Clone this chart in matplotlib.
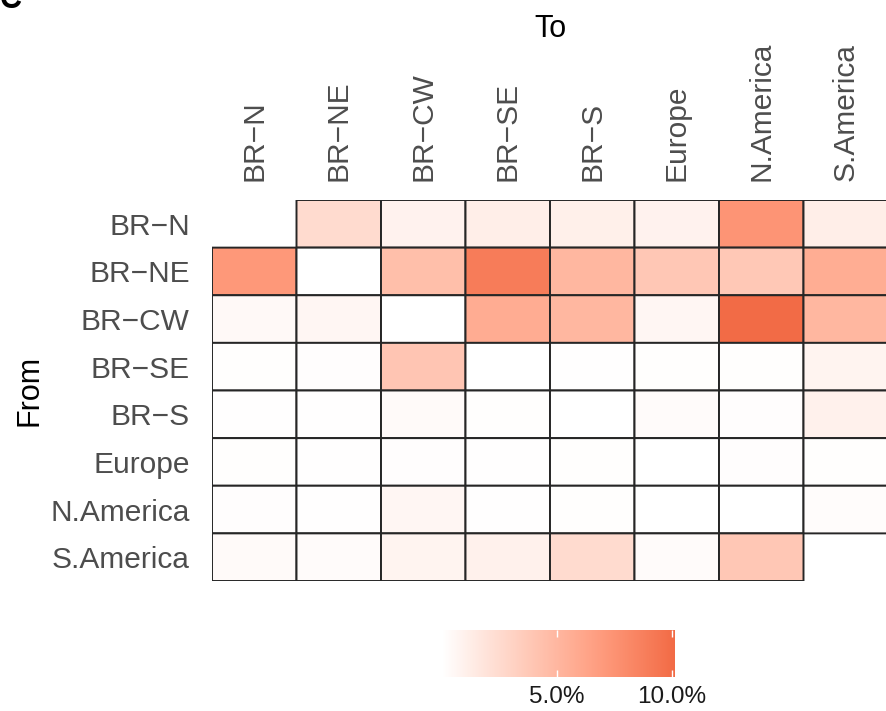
import numpy as np
import matplotlib
matplotlib.use("Agg")
import matplotlib.pyplot as plt
from matplotlib.colors import LinearSegmentedColormap, to_rgb

plt.rcParams['font.family'] = ['Liberation Sans', 'DejaVu Sans']

regions_from = ["BR\u2212N", "BR\u2212NE", "BR\u2212CW", "BR\u2212SE", "BR\u2212S",
                "Europe", "N.America", "S.America"]
regions_to = list(regions_from)

# Share of movements (%), rows = origin, columns = destination
share = np.array([
    [np.nan, 2.5, 0.9, 1.2, 1.1, 0.9, 7.4, 1.2],
    [7.2, 0.0, 4.5, 9.0, 5.0, 3.9, 3.8, 5.7],
    [0.4, 0.6, 0.0, 5.8, 5.0, 0.6, 10.13, 5.0],
    [0.1, 0.15, 4.0, 0.0, 0.05, 0.1, 0.1, 0.8],
    [0.05, 0.05, 0.35, 0.1, 0.0, 0.3, 0.15, 1.0],
    [0.1, 0.05, 0.15, 0.05, 0.1, 0.0, 0.15, 0.1],
    [0.15, 0.05, 0.6, 0.05, 0.1, 0.0, 0.0, 0.2],
    [0.35, 0.3, 0.8, 1.0, 2.5, 0.3, 3.9, np.nan],
])
legend_ticks = [5.0, 10.0]


# --- white -> orange gradient interpolated in CIELAB ---
def srgb_to_lab(c):
    c = np.asarray(c, float)
    lin = np.where(c <= 0.04045, c / 12.92, ((c + 0.055) / 1.055) ** 2.4)
    M = np.array([[0.4124, 0.3576, 0.1805],
                  [0.2126, 0.7152, 0.0722],
                  [0.0193, 0.1192, 0.9505]])
    xyz = M @ lin / np.array([0.95047, 1.0, 1.08883])
    f = np.where(xyz > 0.008856, np.cbrt(xyz), 7.787 * xyz + 16 / 116)
    return np.array([116 * f[1] - 16, 500 * (f[0] - f[1]), 200 * (f[1] - f[2])])


def lab_to_srgb(lab):
    L, a, b = lab
    fy = (L + 16) / 116
    fx = fy + a / 500
    fz = fy - b / 200
    f = np.array([fx, fy, fz])
    xyz = np.where(f ** 3 > 0.008856, f ** 3, (f - 16 / 116) / 7.787)
    xyz = xyz * np.array([0.95047, 1.0, 1.08883])
    Minv = np.array([[3.2406, -1.5372, -0.4986],
                     [-0.9689, 1.8758, 0.0415],
                     [0.0557, -0.2040, 1.0570]])
    lin = Minv @ xyz
    c = np.where(lin <= 0.0031308, 12.92 * lin, 1.055 * np.clip(lin, 0, None) ** (1 / 2.4) - 0.055)
    return np.clip(c, 0, 1)


low_lab = srgb_to_lab(to_rgb("#ffffff"))
high_lab = srgb_to_lab(to_rgb("#f26b46"))
steps = np.linspace(0, 1, 64)
cmap = LinearSegmentedColormap.from_list(
    "white_orange", [lab_to_srgb(low_lab + t * (high_lab - low_lab)) for t in steps])

vmin = 0.0
vmax = np.nanmax(share)

fig = plt.figure(figsize=(8.86, 7.11), dpi=100)
W, H = 886, 711

# heatmap panel (pixel geometry converted to figure fractions)
x0, x1, y0, y1 = 212, 888, 200, 581
ax = fig.add_axes([x0 / W, 1 - y1 / H, (x1 - x0) / W, (y1 - y0) / H])
masked = np.ma.masked_invalid(share)
ax.pcolor(masked, cmap=cmap, vmin=vmin, vmax=vmax,
          edgecolors="#262626", linewidth=1.4)
ax.set_xlim(0, len(regions_to))
ax.set_ylim(len(regions_from), 0)
for s in ax.spines.values():
    s.set_visible(False)
ax.set_xticks(np.arange(len(regions_to)) + 0.5)
ax.set_xticklabels(regions_to, rotation=90, fontsize=21.5, color="#4d4d4d")
ax.set_yticks(np.arange(len(regions_from)) + 0.5)
ax.set_yticklabels(regions_from, fontsize=21.5, color="#4d4d4d")
ax.xaxis.tick_top()
ax.tick_params(length=0)
ax.tick_params(axis="y", pad=16)
ax.tick_params(axis="x", pad=14)

fig.text(550 / W, 1 - 29 / H, "To", ha="center", va="center", fontsize=22)
fig.text(30 / W, 1 - 390 / H, "From", ha="center", va="center", rotation=90, fontsize=22)
fig.text(0.0, 1.0, "C", ha="left", va="center", fontsize=22, fontweight="bold")

# colour bar
cx0, cx1, cy0, cy1 = 442, 675, 630, 677
cax = fig.add_axes([cx0 / W, 1 - cy1 / H, (cx1 - cx0) / W, (cy1 - cy0) / H])
grad = np.linspace(vmin, vmax, 300)[None, :]
cax.imshow(grad, cmap=cmap, vmin=vmin, vmax=vmax, aspect="auto",
           extent=[vmin, vmax, 0, 1])
cax.set_xlim(vmin, vmax)
cax.set_ylim(0, 1)
for s in cax.spines.values():
    s.set_visible(False)
cax.set_yticks([])
cax.set_xticks(legend_ticks)
cax.set_xticklabels([f"{t:.1f}%" for t in legend_ticks], fontsize=17.5, color="#1a1a1a")
cax.tick_params(axis="x", direction="in", color="white", length=5, width=1,
                top=True, bottom=True, pad=6.5)

fig.savefig("out.png", dpi=100)
